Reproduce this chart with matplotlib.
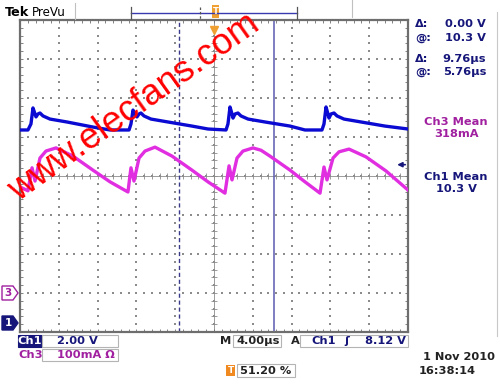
import matplotlib
matplotlib.use('Agg')
import matplotlib.pyplot as plt
import numpy as np
from matplotlib.patches import Rectangle, Polygon

# Ch1 (blue) : time in µs, voltage in V
ch1_t = [-20.0, -19.18, -18.87, -18.66, -18.45, -18.35, -18.15, -17.94, -17.63, -16.91,
         -15.16, -12.48, -10.72, -8.76, -8.56, -8.35, -8.14, -7.94, -7.73, -7.53,
         -7.22, -6.50, -4.74, -2.27, -0.62, 1.24, 1.44, 1.65, 1.86, 1.96,
         2.17, 2.47, 2.78, 3.51, 5.26, 7.84, 9.38, 11.13, 11.34, 11.55,
         11.75, 11.86, 12.06, 12.37, 12.68, 13.40, 15.16, 17.63, 20.0]
ch1_v = [9.90, 9.90, 10.21, 11.03, 10.72, 10.57, 10.72, 10.77, 10.62, 10.46,
         10.31, 10.05, 9.90, 9.90, 10.21, 10.92, 10.72, 10.57, 10.72, 10.77,
         10.62, 10.46, 10.31, 10.10, 9.95, 9.90, 10.21, 11.08, 10.72, 10.51,
         10.72, 10.77, 10.62, 10.46, 10.31, 10.10, 9.90, 9.90, 10.21, 11.08,
         10.72, 10.51, 10.72, 10.77, 10.62, 10.46, 10.31, 10.10, 9.95]

# Ch3 (magenta) : time in µs, current in mA
ch3_t = [-20.0, -19.18, -18.76, -18.45, -17.94, -17.32, -16.29, -14.54, -12.48, -10.72,
         -8.87, -8.56, -8.25, -7.73, -7.11, -6.08, -4.33, -2.27, -0.62, 1.13,
         1.55, 1.86, 2.37, 2.99, 4.02, 4.85, 5.77, 7.84, 9.38, 10.93,
         11.34, 11.65, 12.27, 12.89, 13.92, 15.67, 17.73, 20.0]
ch3_ma = [272, 262, 321, 287, 346, 364, 372, 351, 315, 285,
          259, 321, 287, 346, 364, 374, 351, 315, 285, 256,
          326, 290, 346, 364, 372, 366, 351, 315, 285, 256,
          323, 290, 346, 362, 369, 349, 313, 264]

ch1_volts_per_div = 2.0
ch3_ma_per_div = 100.0
ch1_offset_div = -3.77
ch3_offset_div = -3.0
time_per_div = 4.0
trigger_level_v = 8.12
cursor_a_t = -3.57
cursor_b_t = 6.19

W, H = 500, 386
NAVY = '#16167a'
PURP = '#a020a0'
BLUE = '#0a0ad2'
MAG = '#e02ee0'
GRAY = '#7a7a7a'
BOXC = '#b4b4b4'


def P(x, y):
    return x / W, 1 - y / H


fig = plt.figure(figsize=(W / 100, H / 100), dpi=100)
fig.patch.set_facecolor('white')

L, T, R, B = 20, 20, 408, 332
ax = fig.add_axes([L / W, 1 - B / H, (R - L) / W, (B - T) / H])
ax.set_xlim(-5 * time_per_div, 5 * time_per_div)
ax.set_ylim(-4, 4)
for s in ax.spines.values():
    s.set_color('#6e6e6e')
    s.set_linewidth(1.6)
ax.set_xticks(np.arange(-20, 20.1, 4))
ax.set_yticks(np.arange(-4, 4.1, 1))
ax.set_xticks(np.arange(-20, 20.1, 0.8), minor=True)
ax.set_yticks(np.arange(-4, 4.01, 0.2), minor=True)
ax.tick_params(which='both', direction='in', length=2.5, width=0.6, color='#6e6e6e',
               top=True, right=True, labelbottom=False, labelleft=False)

# dotted graticule
gx, gy = [], []
for k in range(-4, 5):
    xs = k * time_per_div
    for yv in np.arange(-4, 4.01, 0.2):
        gx.append(xs); gy.append(yv)
for k in range(-3, 4):
    for xv in np.arange(-20, 20.01, 0.8):
        gx.append(xv); gy.append(k)
ax.scatter(gx, gy, s=0.9, marker='s', color='#8c8c8c', linewidths=0, zorder=1)

# centre crosshair with ticks
ax.axhline(0, color='#8c8c8c', lw=0.6, zorder=1)
ax.axvline(0, color='#8c8c8c', lw=0.6, zorder=1)
tx = np.arange(-20, 20.01, 0.8)
ax.vlines(tx, -0.07, 0.07, color='#8c8c8c', lw=0.6, zorder=1)
ty = np.arange(-4, 4.01, 0.2)
ax.hlines(ty, -0.3, 0.3, color='#8c8c8c', lw=0.6, zorder=1)

# cursors
ax.axvline(cursor_a_t, color='#3a3a8a', lw=1.0, ls=(0, (3, 2)), zorder=2)
ax.axvline(cursor_b_t, color='#5a5ab0', lw=1.1, zorder=2)

# traces
ch1_div = [v / ch1_volts_per_div + ch1_offset_div for v in ch1_v]
ch3_div = [i / ch3_ma_per_div + ch3_offset_div for i in ch3_ma]
ax.plot(ch3_t, ch3_div, color=MAG, lw=2.4, zorder=3, solid_joinstyle='round')
ax.plot(ch1_t, ch1_div, color=BLUE, lw=2.4, zorder=4, solid_joinstyle='round')

# trigger level arrow on the right
trig_div = trigger_level_v / ch1_volts_per_div + ch1_offset_div
ax.annotate('', xy=(18.6, trig_div), xytext=(20.0, trig_div),
            arrowprops=dict(arrowstyle='-|>', color=NAVY, lw=1.2, mutation_scale=7),
            annotation_clip=False, zorder=5)

# trigger position marker (orange) at top of graticule
ax.plot([0], [3.75], marker='v', color='#f0a030', ms=6, zorder=5, clip_on=False)

# ---------------- top bar ----------------
fig.text(*P(5, 13), 'Tek', fontsize=9.2, fontweight='bold', ha='left', va='center', color='black')
fig.text(*P(32, 13), 'PreVu', fontsize=8.6, ha='left', va='center', color='black')
fig.add_artist(plt.Line2D([75 / W, 75 / W], [1 - 3 / H, 1 - 19 / H], color='#c0c0c0', lw=0.8))
fig.add_artist(plt.Line2D([352 / W, 352 / W], [1 - 0 / H, 1 - 17 / H], color='#c0c0c0', lw=0.8))
fig.add_artist(plt.Line2D([131 / W, 297 / W], [1 - 13 / H, 1 - 13 / H], color='#3a3ab0', lw=1.0))
for xb in (131, 297):
    fig.add_artist(plt.Line2D([xb / W, xb / W], [1 - 7 / H, 1 - 19 / H], color='#555555', lw=0.9))
fig.add_artist(plt.Line2D([200 / W, 200 / W], [1 - 7 / H, 1 - 19 / H], color='#555555', lw=0.9, ls=(0, (2, 1.5))))
fig.add_artist(Rectangle((212 / W, 1 - 18 / H), 7 / W, 13 / H, facecolor='#f0a030', edgecolor='none'))
fig.text(*P(215.5, 12), 'T', fontsize=6, fontweight='bold', color='white', ha='center', va='center')

# right panel border
fig.add_artist(plt.Line2D([497 / W, 497 / W], [1 - 12 / H, 1 - 336 / H], color='#c8c8c8', lw=0.8))

# ---------------- right panel readouts ----------------
fs = 8.2
readouts = [('Δ:', '0.00 V', 24), ('@:', '10.3 V', 38), ('Δ:', '9.76µs', 59), ('@:', '5.76µs', 72)]
for lab, val, yy in readouts:
    fig.text(*P(415, yy), lab, fontsize=fs, fontweight='bold', color=NAVY, ha='left', va='center')
    fig.text(*P(486, yy), val, fontsize=fs, fontweight='bold', color=NAVY, ha='right', va='center')
fig.text(*P(456, 122), 'Ch3 Mean', fontsize=fs, fontweight='bold', color=PURP, ha='center', va='center')
fig.text(*P(456, 134), '318mA', fontsize=fs, fontweight='bold', color=PURP, ha='center', va='center')
fig.text(*P(456, 177), 'Ch1 Mean', fontsize=fs, fontweight='bold', color=NAVY, ha='center', va='center')
fig.text(*P(456, 189), '10.3 V', fontsize=fs, fontweight='bold', color=NAVY, ha='center', va='center')

# ---------------- left channel markers ----------------
def marker(y, txt, fill, edge, tcol):
    pts = [P(2, y - 7), P(13, y - 7), P(18, y), P(13, y + 7), P(2, y + 7)]
    fig.add_artist(Polygon(pts, closed=True, facecolor=fill, edgecolor=edge, lw=1.0))
    fig.text(*P(8, y), txt, fontsize=7.5, fontweight='bold', color=tcol, ha='center', va='center')

marker(293, '3', 'white', PURP, PURP)
marker(323, '1', NAVY, NAVY, 'white')

# ---------------- bottom readouts ----------------
def box(x0, y0, x1, y1, fc='white', ec=BOXC):
    fig.add_artist(Rectangle((x0 / W, 1 - y1 / H), (x1 - x0) / W, (y1 - y0) / H,
                             facecolor=fc, edgecolor=ec, lw=0.8))

box(18, 335, 42, 347, fc=NAVY, ec=NAVY)
fig.text(*P(30, 341), 'Ch1', fontsize=fs, fontweight='bold', color='white', ha='center', va='center')
box(42, 335, 118, 347)
fig.text(*P(57, 341), '2.00 V', fontsize=fs, fontweight='bold', color=NAVY, ha='left', va='center')
fig.text(*P(18, 355), 'Ch3', fontsize=fs, fontweight='bold', color=PURP, ha='left', va='center')
box(42, 349, 118, 361)
fig.text(*P(57, 355), '100mA Ω', fontsize=fs, fontweight='bold', color=PURP, ha='left', va='center')

fig.text(*P(226, 341), 'M', fontsize=fs, fontweight='bold', color='#222222', ha='center', va='center')
box(233, 335, 281, 347)
fig.text(*P(236, 341), '4.00µs', fontsize=fs, fontweight='bold', color='#222222', ha='left', va='center')
fig.text(*P(295, 341), 'A', fontsize=fs, fontweight='bold', color='#222222', ha='center', va='center')
box(300, 335, 408, 347)
fig.text(*P(311, 341), 'Ch1', fontsize=fs, fontweight='bold', color=NAVY, ha='left', va='center')
fig.text(*P(347, 341), '\u0283', fontsize=fs, fontweight='bold', color=NAVY, ha='center', va='center')
fig.text(*P(406, 341), '8.12 V', fontsize=fs, fontweight='bold', color=NAVY, ha='right', va='center')

fig.add_artist(Rectangle((226 / W, 1 - 376 / H), 9 / W, 11 / H, facecolor='#f08a20', edgecolor='none'))
fig.text(*P(230.5, 370.5), 'T', fontsize=6.5, fontweight='bold', color='white', ha='center', va='center')
box(237, 364, 295, 377)
fig.text(*P(240, 370.5), '51.20 %', fontsize=fs, fontweight='bold', color='#222222', ha='left', va='center')

fig.text(*P(495, 357), '1 Nov 2010', fontsize=fs, fontweight='bold', color='#222222', ha='right', va='center')
fig.text(*P(419, 370.5), '16:38:14', fontsize=fs, fontweight='bold', color='#222222', ha='left', va='center')

# ---------------- watermark ----------------
fig.text(*P(134, 107), 'www.elecfans.com', fontsize=26, color='#ff0000', family='Liberation Sans',
         rotation=35.5, rotation_mode='anchor', ha='center', va='center', zorder=10)

fig.savefig('out.png', dpi=100)
